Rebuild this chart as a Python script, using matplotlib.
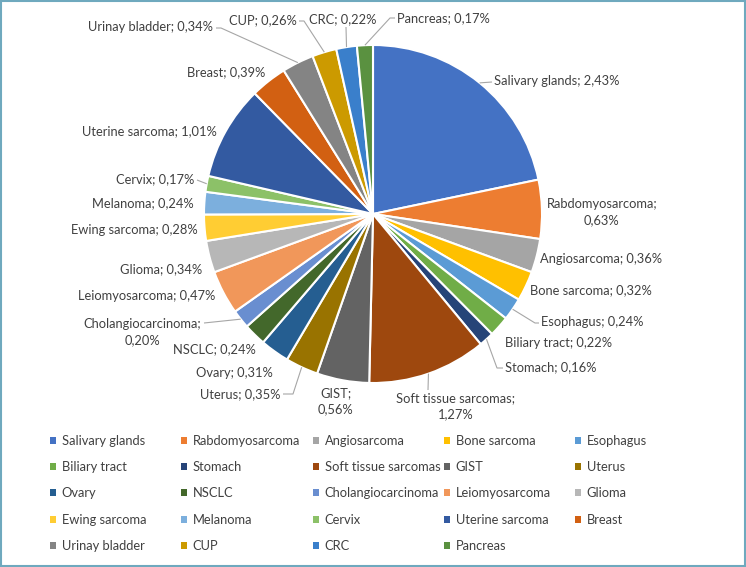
import matplotlib
matplotlib.use("Agg")
import matplotlib.pyplot as plt
from matplotlib.patches import Patch, Rectangle
import numpy as np

# ---------------- data ----------------
categories = ["Salivary glands", "Rabdomyosarcoma", "Angiosarcoma", "Bone sarcoma", "Esophagus",
              "Biliary tract", "Stomach", "Soft tissue sarcomas", "GIST", "Uterus",
              "Ovary", "NSCLC", "Cholangiocarcinoma", "Leiomyosarcoma", "Glioma",
              "Ewing sarcoma", "Melanoma", "Cervix", "Uterine sarcoma", "Breast",
              "Urinay bladder", "CUP", "CRC", "Pancreas"]
values = [2.43, 0.63, 0.36, 0.32, 0.24, 0.22, 0.16, 1.27, 0.56, 0.35,
          0.31, 0.24, 0.20, 0.47, 0.34, 0.28, 0.24, 0.17, 1.01, 0.39,
          0.34, 0.26, 0.22, 0.17]
colors = ["#4472C4", "#ED7D31", "#A5A5A5", "#FFC000", "#5B9BD5",
          "#70AD47", "#264478", "#9E480E", "#636363", "#997300",
          "#255E91", "#43682B", "#698ED0", "#F1975A", "#B7B7B7",
          "#FFCD33", "#7CAFDD", "#8CC168", "#335AA1", "#D26012",
          "#848484", "#CC9A00", "#3A7FCB", "#5A9140"]

# ---------------- layout (pixels, y measured from top) ----------------
W, H = 746, 567
PIE_CX, PIE_CY, PIE_R = 373, 214, 169
label_pos = {
    "Salivary glands": (494, 81, "left"),
    "Rabdomyosarcoma": (602, 212, "center"),
    "Angiosarcoma": (540, 259, "left"),
    "Bone sarcoma": (530, 290, "left"),
    "Esophagus": (541, 322, "left"),
    "Biliary tract": (505, 343, "left"),
    "Stomach": (505, 367, "left"),
    "Soft tissue sarcomas": (456, 406, "center"),
    "GIST": (336, 401, "center"),
    "Uterus": (281, 394, "right"),
    "Ovary": (273, 373, "right"),
    "NSCLC": (173, 349, "left"),
    "Cholangiocarcinoma": (201, 332, "right"),
    "Leiomyosarcoma": (215, 296, "right"),
    "Glioma": (202, 269, "right"),
    "Ewing sarcoma": (198, 230, "right"),
    "Melanoma": (194, 203, "right"),
    "Cervix": (194, 179, "right"),
    "Uterine sarcoma": (217, 131, "right"),
    "Breast": (265, 72, "right"),
    "Urinay bladder": (213, 27, "right"),
    "CUP": (297, 20, "right"),
    "CRC": (343, 19, "center"),
    "Pancreas": (397, 18, "left"),
}
wrapped = {"Rabdomyosarcoma", "Soft tissue sarcomas", "GIST", "Cholangiocarcinoma"}
# leader end (label side) and optional elbow, pixels y-down
leaders = {
    "Salivary glands": ((492, 82), None),
    "Esophagus": ((539, 323), (535, 323)),
    "Stomach": ((503, 368), (497, 368)),
    "Soft tissue sarcomas": ((428, 390), None),
    "Uterus": ((283, 394), (293, 394)),
    "Cholangiocarcinoma": ((204, 323), None),
    "Cervix": ((197, 180), None),
    "Urinay bladder": ((216, 28), (221, 28)),
    "CUP": ((299, 21), (304, 21)),
    "CRC": ((346, 27), None),
    "Pancreas": ((395, 18), (390, 18)),
}
legend_cols_x = [50, 181, 313, 444, 575]
legend_top = 435

FONT = ["Lato", "DejaVu Sans"]
FS = 9.3
TXT = "#404040"
LEADER = "#A6A6A6"

def P(x, y):
    return x, H - y

plt.rcParams["font.family"] = FONT
fig = plt.figure(figsize=(W / 100, H / 100), dpi=100)
ax = fig.add_axes([0, 0, 1, 1])

wedges, _ = ax.pie(values, colors=colors, startangle=90, counterclock=False,
                   center=P(PIE_CX, PIE_CY), radius=PIE_R,
                   wedgeprops=dict(edgecolor="white", linewidth=1.5))
ax.set_xlim(0, W)
ax.set_ylim(0, H)
ax.set_aspect("equal")
ax.axis("off")

cx, cy = P(PIE_CX, PIE_CY)
for name, val, w in zip(categories, values, wedges):
    vtxt = f"{val:.2f}%".replace(".", ",")
    sep = "\n" if name in wrapped else " "
    txt = f"{name};{sep}{vtxt}"
    x, y, ha = label_pos[name]
    ax.text(*P(x, y), txt, ha=ha, va="center", fontsize=FS, color=TXT,
            multialignment="center", linespacing=1.4)
    if name in leaders:
        end, elbow = leaders[name]
        th = np.deg2rad((w.theta1 + w.theta2) / 2)
        ax_pt = (cx + PIE_R * np.cos(th), cy + PIE_R * np.sin(th))
        pts = [ax_pt]
        if elbow is not None:
            pts.append(P(*elbow))
        pts.append(P(*end))
        xs, ys = zip(*pts)
        ax.plot(xs, ys, color=LEADER, lw=0.8, solid_capstyle="butt")

# legend: one legend per column (equal column widths)
for c in range(5):
    idx = list(range(c, len(categories), 5))
    handles = [Patch(facecolor=colors[i], edgecolor="none") for i in idx]
    labs = [categories[i] for i in idx]
    fig.legend(handles, labs, loc="upper left",
               bbox_to_anchor=(legend_cols_x[c] / W, 1 - legend_top / H),
               frameon=False, fontsize=FS, handlelength=0.46, handleheight=0.46,
               handletextpad=0.45, labelspacing=1.1, borderpad=0, borderaxespad=0,
               labelcolor=TXT)

# outer frame
fig.patches.append(Rectangle((0.75, 0.75), W - 1.5, H - 1.5, transform=None,
                             fill=False, edgecolor="#6FA9BE", lw=1.5))

fig.savefig("out.png", dpi=100)
